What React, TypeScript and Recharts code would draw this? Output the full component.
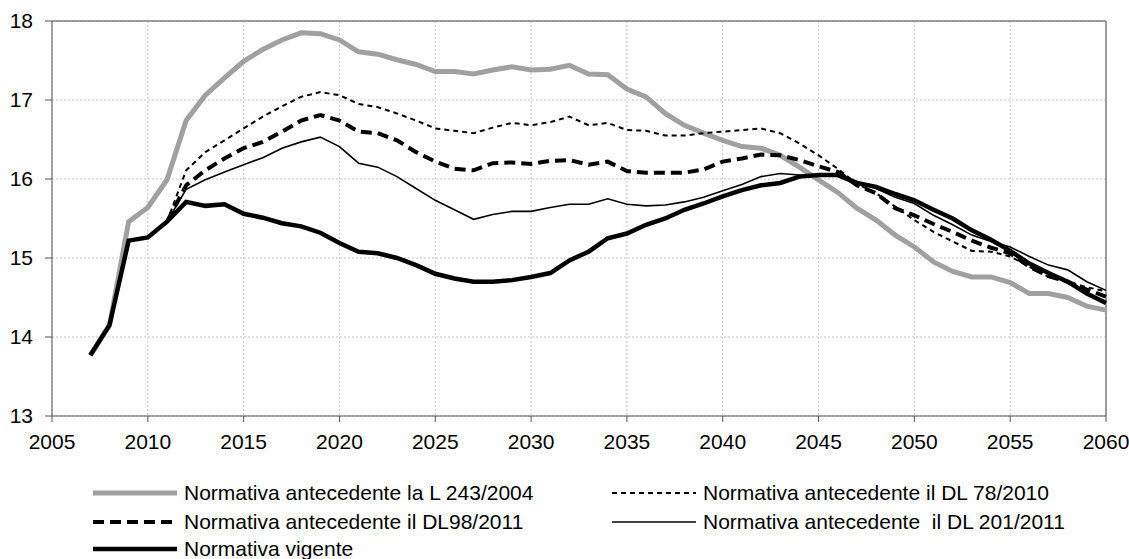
import React from 'react'
import { CartesianGrid, Line, LineChart, ReferenceLine, XAxis, YAxis } from 'recharts'

const years = [
  2007, 2008, 2009, 2010, 2011, 2012, 2013, 2014, 2015, 2016, 2017, 2018, 2019, 2020,
  2021, 2022, 2023, 2024, 2025, 2026, 2027, 2028, 2029, 2030, 2031, 2032, 2033, 2034,
  2035, 2036, 2037, 2038, 2039, 2040, 2041, 2042, 2043, 2044, 2045, 2046, 2047, 2048,
  2049, 2050, 2051, 2052, 2053, 2054, 2055, 2056, 2057, 2058, 2059, 2060,
]

const l243 = [
  13.77, 14.15, 15.46, 15.64, 15.99, 16.74, 17.06, 17.28, 17.49, 17.64, 17.76, 17.85, 17.84, 17.76,
  17.61, 17.58, 17.51, 17.45, 17.36, 17.36, 17.33, 17.38, 17.42, 17.38, 17.39, 17.44, 17.33, 17.32,
  17.14, 17.04, 16.83, 16.68, 16.58, 16.49, 16.41, 16.39, 16.30, 16.15, 15.99, 15.83, 15.63, 15.48,
  15.29, 15.14, 14.95, 14.83, 14.76, 14.76, 14.69, 14.55, 14.55, 14.50, 14.39, 14.34,
]

const dl78 = [
  null, null, null, null, 15.46, 16.11, 16.34, 16.49, 16.64, 16.79, 16.92, 17.04, 17.10, 17.06,
  16.95, 16.91, 16.83, 16.74, 16.64, 16.61, 16.58, 16.65, 16.71, 16.68, 16.72, 16.79, 16.68, 16.71,
  16.62, 16.61, 16.55, 16.55, 16.58, 16.60, 16.62, 16.64, 16.58, 16.45, 16.30, 16.13, 15.94, 15.82,
  15.65, 15.48, 15.33, 15.21, 15.09, 15.08, 15.02, 14.89, 14.76, 14.70, 14.63, 14.58,
]

const dl98 = [
  null, null, null, null, 15.46, 15.92, 16.11, 16.26, 16.39, 16.47, 16.60, 16.74, 16.81, 16.74,
  16.60, 16.58, 16.49, 16.34, 16.22, 16.13, 16.11, 16.20, 16.21, 16.19, 16.23, 16.24, 16.18, 16.22,
  16.10, 16.08, 16.08, 16.08, 16.12, 16.22, 16.26, 16.31, 16.30, 16.24, 16.16, 16.09, 15.92, 15.82,
  15.63, 15.54, 15.43, 15.33, 15.22, 15.13, 15.06, 14.89, 14.77, 14.70, 14.60, 14.51,
]

const dl201 = [
  null, null, null, null, 15.46, 15.87, 15.99, 16.09, 16.18, 16.27, 16.39, 16.47, 16.53, 16.41,
  16.20, 16.15, 16.03, 15.88, 15.73, 15.61, 15.49, 15.55, 15.59, 15.59, 15.64, 15.68, 15.68, 15.75,
  15.68, 15.66, 15.67, 15.71, 15.77, 15.85, 15.93, 16.03, 16.07, 16.05, 16.04, 16.05, 15.96, 15.88,
  15.77, 15.69, 15.54, 15.42, 15.29, 15.21, 15.14, 15.02, 14.91, 14.85, 14.70, 14.59,
]

const vigente = [
  13.77, 14.15, 15.22, 15.26, 15.46, 15.71, 15.66, 15.68, 15.56, 15.51, 15.44, 15.40, 15.32, 15.19,
  15.08, 15.06, 15.00, 14.91, 14.80, 14.74, 14.70, 14.70, 14.72, 14.76, 14.81, 14.97, 15.08, 15.25,
  15.31, 15.42, 15.50, 15.61, 15.69, 15.78, 15.86, 15.92, 15.95, 16.03, 16.05, 16.05, 15.95, 15.90,
  15.81, 15.73, 15.61, 15.50, 15.35, 15.23, 15.09, 14.93, 14.81, 14.70, 14.55, 14.43,
]

const xTicks = [2005, 2010, 2015, 2020, 2025, 2030, 2035, 2040, 2045, 2050, 2055, 2060]
const yTicks = [13, 14, 15, 16, 17, 18]

const series = [
  { key: 'l243', name: 'Normativa antecedente la L 243/2004', color: '#a0a0a0', width: 5, dash: undefined },
  { key: 'dl78', name: 'Normativa antecedente il DL 78/2010', color: '#000', width: 2, dash: '5 4' },
  { key: 'dl98', name: 'Normativa antecedente il DL98/2011', color: '#000', width: 4, dash: '11 6' },
  { key: 'dl201', name: 'Normativa antecedente  il DL 201/2011', color: '#000', width: 1.6, dash: undefined },
  { key: 'vigente', name: 'Normativa vigente', color: '#000', width: 4.5, dash: undefined },
]

const data = years.map((y, i) => ({
  year: y,
  l243: l243[i],
  dl78: dl78[i],
  dl98: dl98[i],
  dl201: dl201[i],
  vigente: vigente[i],
}))

const font = '"Liberation Sans", Arial, sans-serif'

// legend slots: [left, centerY]
const legendPos = [
  [93, 493],
  [612, 493],
  [93, 522],
  [612, 522],
  [93, 549],
]

export default function App() {
  return (
    <div style={{ position: 'absolute', left: 0, top: 0, width: 1129, height: 559, background: '#fff', overflow: 'hidden', fontFamily: font }}>
      <LineChart width={1129} height={460} data={data} margin={{ top: 21, right: 23, left: 0, bottom: 0 }}>
        <CartesianGrid stroke="#c4c4c4" strokeDasharray="2 2" />
        <XAxis
          dataKey="year"
          type="number"
          domain={[2005, 2060]}
          ticks={xTicks}
          interval={0}
          height={44}
          tickSize={6}
          tickMargin={12}
          stroke="#555"
          tick={{ fill: '#000', fontSize: 21, fontFamily: font }}
        />
        <YAxis
          domain={[13, 18]}
          ticks={yTicks}
          interval={0}
          width={52}
          tickSize={7}
          tickMargin={12}
          stroke="#555"
          tick={{ fill: '#000', fontSize: 21, fontFamily: font }}
        />
        <ReferenceLine y={18} stroke="#808080" strokeWidth={1.5} />
        <ReferenceLine x={2060} stroke="#808080" strokeWidth={1.5} />
        {series.map((s) => (
          <Line
            key={s.key}
            dataKey={s.key}
            name={s.name}
            type="linear"
            stroke={s.color}
            strokeWidth={s.width}
            strokeDasharray={s.dash}
            dot={false}
            activeDot={false}
            isAnimationActive={false}
          />
        ))}
      </LineChart>
      {series.map((s, i) => {
        const [left, cy] = legendPos[i]
        return (
          <div key={s.key} style={{ position: 'absolute', left, top: cy - 14, height: 28, display: 'flex', alignItems: 'center', whiteSpace: 'pre', fontSize: 21, color: '#000' }}>
            <svg width={84} height={10} style={{ marginRight: 7 }}>
              <line x1={0} y1={5} x2={84} y2={5} stroke={s.color} strokeWidth={s.width} strokeDasharray={s.dash} />
            </svg>
            <span>{s.name}</span>
          </div>
        )
      })}
    </div>
  )
}
